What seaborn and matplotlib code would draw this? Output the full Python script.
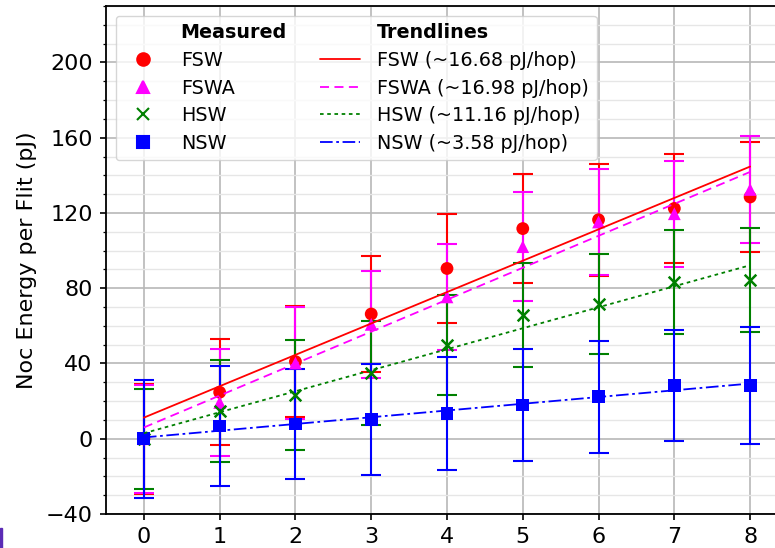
import numpy as np
import matplotlib
matplotlib.use("Agg")
import matplotlib.pyplot as plt
from matplotlib.lines import Line2D
from matplotlib.patches import Rectangle
from matplotlib.ticker import MultipleLocator
import seaborn as sns

# Hop counts
hops = [0, 1, 2, 3, 4, 5, 6, 7, 8]

# Mean energy per flit (pJ) for each switch type
fsw_mean = [0.0, 24.7, 41.0, 66.3, 90.5, 111.7, 116.4, 122.4, 128.5]
fswa_mean = [0.0, 19.3, 40.2, 60.8, 75.4, 102.1, 115.2, 119.6, 132.5]
hsw_mean = [0.0, 14.7, 23.2, 35.0, 50.0, 65.8, 71.6, 83.5, 84.3]
nsw_mean = [0.0, 6.8, 7.8, 10.1, 13.5, 17.9, 22.3, 28.3, 28.4]

# Standard deviations
fsw_std = [29.3, 28.1, 29.3, 30.6, 29.0, 29.1, 29.8, 29.1, 29.0]
fswa_std = [28.7, 28.4, 29.7, 28.3, 28.3, 28.9, 28.3, 28.1, 28.6]
hsw_std = [26.7, 27.3, 29.2, 27.5, 26.6, 27.7, 26.7, 27.6, 27.6]
nsw_std = [31.4, 31.9, 29.4, 29.4, 30.0, 29.9, 29.8, 29.3, 31.2]

# Trendline slopes (pJ/hop)
slopes = [16.68, 16.98, 11.16, 3.58]

names = ["FSW", "FSWA", "HSW", "NSW"]
colors = ["red", "magenta", "green", "blue"]
markers = ["o", "^", "x", "s"]
linestyles = ["-", (0, (5, 3)), (0, (2, 2)), (0, (7, 2, 1.5, 2))]

sns.set_theme(style="ticks")
plt.rcParams["font.family"] = ["DejaVu Sans"]
for key in ("text.color", "axes.labelcolor", "xtick.color", "ytick.color"):
    plt.rcParams[key] = "black"

fig = plt.figure(figsize=(7.75, 5.48), dpi=100)
ax = fig.add_axes([106 / 775, 34 / 548, 682 / 775, 508 / 548])

means = [fsw_mean, fswa_mean, hsw_mean, nsw_mean]
stds = [fsw_std, fswa_std, hsw_std, nsw_std]
x = np.array(hops, dtype=float)

for m, s, c, mk in zip(means, stds, colors, markers):
    ax.errorbar(x, m, yerr=s, fmt="none", ecolor=c, elinewidth=1.5,
                capsize=7, capthick=1.5, zorder=3)
    sns.scatterplot(x=x, y=m, color=c, marker=mk, s=85 if mk != "x" else 70,
                    linewidth=1.8 if mk == "x" else 0, edgecolor=c if mk == "x" else "none",
                    ax=ax, zorder=4, legend=False)

# Least-squares trendline with the stated slope
for m, k, c, ls in zip(means, slopes, colors, linestyles):
    b = np.mean(m) - k * np.mean(x)
    ax.plot(x, b + k * x, color=c, linestyle=ls, linewidth=1.3, zorder=5)

ax.set_xlim(-0.5, 8.5)
ax.set_ylim(-40, 230)
ax.set_xticks(hops)
ax.yaxis.set_major_locator(MultipleLocator(40))
ax.yaxis.set_minor_locator(MultipleLocator(10))
ax.grid(True, which="major", color="#b8b8b8", linewidth=1.2, zorder=0)
ax.grid(True, which="minor", axis="y", color="#e6e6e6", linewidth=1.0, zorder=0)
ax.set_axisbelow(True)
ax.tick_params(axis="both", which="major", labelsize=16, length=4.5, width=1.2,
               color="black", pad=5)
ax.tick_params(axis="y", which="minor", length=2.5, width=0.9, color="black")
for sp in ax.spines.values():
    sp.set_color("black")
    sp.set_linewidth(1.3)
ax.set_ylabel("Noc Energy per Flit (pJ)", fontsize=16, labelpad=6)

# Two-column legend: measured points and trendlines
blank = Line2D([], [], linestyle="none", marker=None)
handles = [blank]
labels = ["Measured"]
for c, mk, n in zip(colors, markers, names):
    handles.append(Line2D([], [], linestyle="none", marker=mk, color=c,
                          markersize=9, markeredgewidth=1.5))
    labels.append(n)
handles.append(blank)
labels.append("Trendlines")
for c, ls, n, k in zip(colors, linestyles, names, slopes):
    handles.append(Line2D([], [], color=c, linestyle=ls, linewidth=1.3))
    labels.append(f"{n} (~{k:.2f} pJ/hop)")

leg = ax.legend(handles, labels, ncol=2, loc="upper left", fontsize=13.8,
                framealpha=0.8, edgecolor="#cccccc", fancybox=True,
                borderaxespad=0.5, handlelength=2.1, columnspacing=1.7,
                labelspacing=0.45, handletextpad=0.9)
for t in leg.get_texts():
    if t.get_text() in ("Measured", "Trendlines"):
        t.set_fontweight("bold")

fig.patches.append(Rectangle((0, 0), 2 / 775, 20 / 548, transform=fig.transFigure,
                             color="#5b2bb5", zorder=10))

fig.savefig("out.png", dpi=100)
